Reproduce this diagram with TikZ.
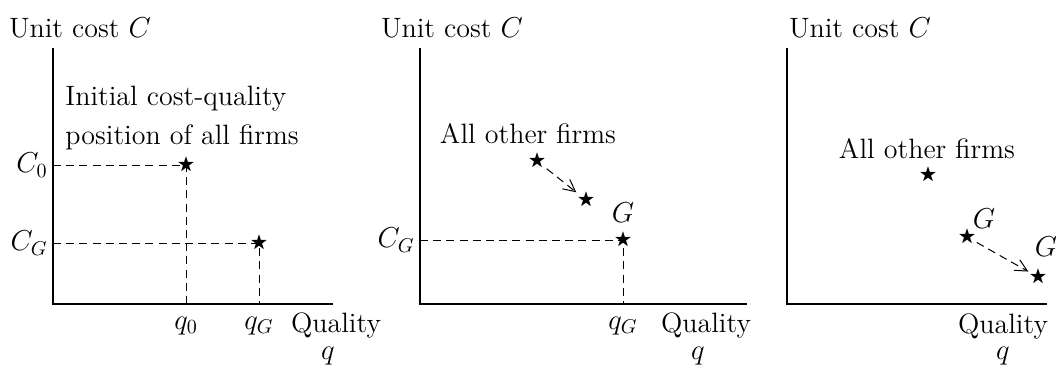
\documentclass[tikz,border=0pt]{standalone}
\usepackage{amssymb,amsmath}
\usepackage{tikz}
\usetikzlibrary{arrows.meta}
\usetikzlibrary{positioning}

\begin{document}
\begin{tikzpicture}[x=0.5pt, y=0.5pt,
    every node/.style={font=\fontsize{14}{17}\selectfont, inner sep=1pt},
    axis/.style={line width=0.6pt},
    guide/.style={line width=0.5pt, dash pattern=on 4pt off 2.6pt},
    move/.style={guide, -{Straight Barb[length=6pt, width=6pt]}},
    firm/.style={inner sep=0.4pt, font=\fontsize{9}{9}\selectfont}]
\useasboundingbox (0,0) rectangle (1056,372);

% left panel: initial position
\coordinate (o1) at (53,68);
\draw[axis] (53,324) -- (o1) -- (333,68);
\node (yl1) at (80,344) {Unit cost $C$};
\node[align=left, anchor=north west, inner sep=0pt] (init) at (65,286)
    {Initial cost-quality\\[2.5pt]position of all firms};
\coordinate (p0) at (186,207);
\coordinate (pg) at (259,129);
\node[anchor=east] (c0) at (50,207) {$C_0$};
\node[anchor=east] (cg1) at (50,129) {$C_G$};
\node (q0) at (186,46) {$q_0$};
\node (qg1) at (259,46) {$q_G$};
\draw[guide] (o1 |- p0) -- (p0) -- (p0 |- o1);
\draw[guide] (o1 |- pg) -- (pg) -- (pg |- o1);
\node[firm] (s0) at (p0) {$\bigstar$};
\node[firm] (sg1) at (pg) {$\bigstar$};
\node (xl1) at (336,47) {Quality};
\node (q1) at (328,16) {$q$};

% middle panel: G moves first
\coordinate (o2) at (420,68);
\draw[axis] (420,324) -- (o2) -- (747,68);
\node (yl2) at (452,344) {Unit cost $C$};
\node (other2) at (528,238) {All other firms};
\node[firm] (sa) at (537,211) {$\bigstar$};
\node[firm] (sb) at (586,172) {$\bigstar$};
\draw[move] (sa) -- (sb);
\coordinate (p2) at (623,132);
\node[anchor=east] (cg2) at (417,132) {$C_G$};
\node (qg2) at (623,46) {$q_G$};
\draw[guide] (o2 |- p2) -- (p2) -- (p2 |- o2);
\node[firm] (sg2) at (p2) {$\bigstar$};
\node (g2) at (623,159) {$G$};
\node (xl2) at (706,47) {Quality};
\node (q2) at (698,16) {$q$};

% right panel: G moves again
\coordinate (o3) at (787,68);
\draw[axis] (787,324) -- (o3) -- (1047,68);
\node (yl3) at (860,344) {Unit cost $C$};
\node (other3) at (927,223) {All other firms};
\node[firm] (sc) at (928,197) {$\bigstar$};
\node[firm] (sg3) at (967,135) {$\bigstar$};
\node[firm] (sg4) at (1038,95) {$\bigstar$};
\draw[move] (sg3) -- (sg4);
\node (g3) at (984,153) {$G$};
\node[inner sep=0pt] (g4) at (1046,125) {$G$};
\node (xl3) at (1003,46) {Quality};
\node (q3) at (1003,16) {$q$};
\end{tikzpicture}
\end{document}
